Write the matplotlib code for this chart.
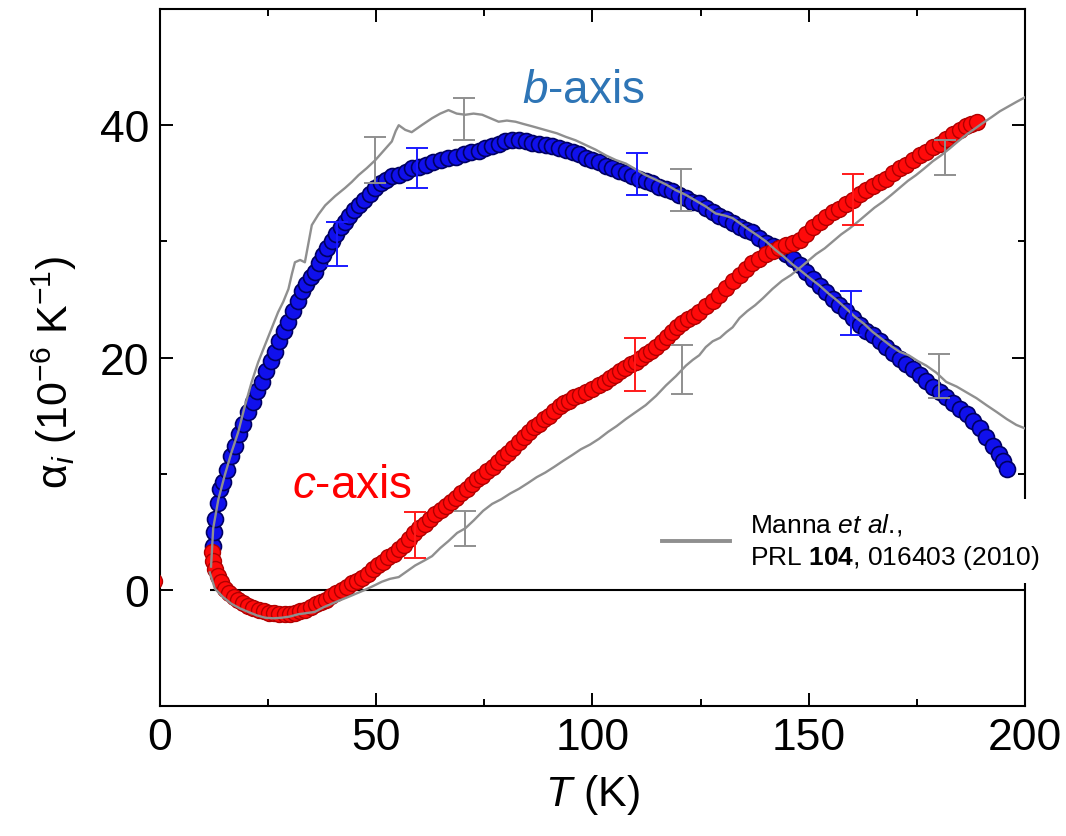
import matplotlib
matplotlib.use("Agg")
import matplotlib.pyplot as plt
from matplotlib.lines import Line2D

plt.rcParams['font.family'] = ['Liberation Sans', 'DejaVu Sans']
plt.rcParams['mathtext.fontset'] = 'custom'
plt.rcParams['mathtext.rm'] = 'Liberation Sans'
plt.rcParams['mathtext.it'] = 'Liberation Sans:italic'
plt.rcParams['mathtext.bf'] = 'Liberation Sans:bold'

# ---------------- data ----------------
b_T = [12.3, 12.5, 12.8, 13.3, 13.8, 14.5, 15.5, 16.5, 17.3, 18.3, 19.3, 20.4, 21.4, 22.5, 23.5,
       24.5, 25.6, 26.6, 27.6, 28.7, 29.7, 30.7, 31.8, 32.8, 33.8, 34.9, 35.9, 36.8, 37.8, 38.7,
       39.7, 40.7, 41.8, 42.8, 43.8, 44.9, 45.9, 47.2, 48.5, 49.8, 51.0, 52.3, 53.6, 55.2, 56.8,
       58.2, 59.8, 61.5, 63.2, 65.0, 66.7, 68.5, 70.2, 72.0, 73.7, 75.2, 76.8, 78.3, 79.8, 81.4,
       83.0, 84.6, 86.1, 87.6, 89.2, 90.7, 92.3, 93.8, 95.4, 96.9, 98.5, 100.0, 101.5, 103.1,
       104.6, 106.1, 107.7, 109.2, 110.7, 112.3, 113.8, 115.4, 116.9, 118.5, 120.0, 121.6, 123.1,
       124.7, 126.2, 127.8, 129.3, 130.9, 132.4, 134.0, 135.5, 137.0, 138.6, 140.1, 141.7, 143.2,
       144.8, 146.3, 147.9, 149.4, 151.0, 152.5, 154.0, 155.6, 157.1, 158.7, 160.2, 161.8, 163.3,
       164.8, 166.4, 167.9, 169.5, 171.0, 172.6, 174.1, 175.7, 177.2, 178.8, 180.3, 181.8, 183.4,
       184.9, 186.5, 188.0, 189.6, 191.1, 192.7, 194.0, 195.0, 195.8]
b_alpha = [3.8, 5.0, 6.1, 7.5, 8.7, 9.3, 10.3, 11.5, 12.4, 13.4, 14.3, 15.3, 16.2, 17.1, 17.9,
           18.8, 19.7, 20.5, 21.4, 22.3, 23.1, 24.0, 24.9, 25.7, 26.3, 26.9, 27.4, 28.1, 28.8, 29.4,
           30.0, 30.6, 31.2, 31.7, 32.2, 32.7, 33.1, 33.6, 34.1, 34.6, 35.0, 35.3, 35.6, 35.7, 36.0,
           36.3, 36.4, 36.6, 36.8, 37.0, 37.2, 37.3, 37.5, 37.7, 37.8, 38.0, 38.2, 38.4, 38.6, 38.7,
           38.7, 38.6, 38.5, 38.4, 38.3, 38.2, 38.0, 37.9, 37.7, 37.5, 37.2, 37.0, 36.8, 36.5,
           36.3, 36.1, 35.9, 35.6, 35.4, 35.2, 35.0, 34.7, 34.5, 34.3, 34.0, 33.7, 33.4,
           33.3, 32.9, 32.5, 32.2, 31.9, 31.6, 31.2, 31.0, 30.8, 30.3, 29.9, 29.6, 29.4,
           28.9, 28.5, 28.0, 27.4, 26.8, 26.2, 25.6, 25.0, 24.5, 24.0, 23.4, 22.8, 22.3,
           21.9, 21.4, 20.9, 20.4, 19.9, 19.4, 19.0, 18.5, 18.0, 17.5, 17.0, 16.6, 16.1,
           15.6, 15.1, 14.5, 13.9, 13.2, 12.4, 11.7, 11.1, 10.4]

c_T = [-1.3, 12.0, 12.3, 12.7, 13.3, 14.0, 15.0, 16.0, 17.0, 18.0, 19.2, 20.4, 21.6, 22.8, 24.0,
       25.2, 26.4, 27.6, 28.8, 30.0, 31.2, 32.4, 33.6, 34.8, 36.0, 37.2, 38.4, 39.6, 40.8, 42.0,
       43.2, 44.4, 45.6, 46.8, 48.0, 49.2, 50.4, 51.6, 52.8, 54.0, 55.2, 56.4, 57.6, 58.8, 60.0,
       61.2, 62.5, 63.7, 64.9, 66.1, 67.3, 68.5, 69.7, 70.9, 72.1, 73.3, 74.5, 75.7, 76.9, 78.1,
       79.3, 80.5, 81.7, 83.0, 84.2, 85.3, 86.5, 87.7, 88.9, 90.0, 91.2, 92.4, 93.5, 94.6, 95.8,
       97.0, 98.4, 100.0, 101.5, 102.8, 104.0, 105.2, 106.4, 107.6, 108.8, 110.0, 111.2, 112.4,
       113.6, 114.8, 116.0, 117.2, 118.4, 119.6, 120.8, 122.0, 123.4, 124.7, 126.2, 127.8, 129.3,
       130.8, 132.4, 134.0, 135.5, 137.0, 138.6, 140.1, 141.7, 143.2, 144.8, 146.3, 147.9, 149.4,
       151.0, 152.5, 154.0, 155.6, 157.1, 158.7, 160.2, 161.8, 163.3, 164.8, 166.4, 167.9, 169.5,
       171.0, 172.6, 174.1, 175.7, 177.2, 178.8, 180.3, 181.8, 183.4, 184.9, 186.3, 187.5, 188.8]
c_alpha = [0.8, 3.3, 2.5, 1.8, 1.2, 0.7, 0.1, -0.3, -0.6, -0.9, -1.15, -1.35, -1.55, -1.7, -1.85,
           -1.95, -2.0, -2.05, -2.1, -2.1, -2.0, -1.85, -1.7, -1.5, -1.25, -1.05, -0.85, -0.55, -0.3, -0.05,
           0.25, 0.55, 0.8, 1.05, 1.4, 1.8, 2.1, 2.4, 2.8, 3.1, 3.5, 3.9, 4.4, 4.9, 5.3,
           5.7, 6.1, 6.5, 6.85, 7.2, 7.55, 7.9, 8.3, 8.7, 9.1, 9.5, 9.8, 10.2, 10.6, 11.0,
           11.4, 11.8, 12.25, 12.7, 13.2, 13.6, 14.0, 14.3, 14.7, 15.0, 15.4, 15.8, 16.1, 16.3, 16.6,
           16.8, 17.0, 17.3, 17.6, 17.9, 18.2, 18.5, 18.8, 19.1, 19.4, 19.65, 19.95, 20.3,
           20.6, 20.9, 21.3, 21.8, 22.2, 22.6, 23.0, 23.3, 23.6, 23.9, 24.4, 24.9, 25.4,
           26.0, 26.6, 27.1, 27.6, 28.1, 28.5, 28.9, 29.2, 29.4, 29.7, 29.9, 30.1, 30.6,
           31.2, 31.7, 32.1, 32.5, 32.8, 33.2, 33.6, 34.1, 34.4, 34.8, 35.1, 35.4, 35.9,
           36.3, 36.6, 37.0, 37.4, 37.7, 38.1, 38.4, 38.8, 39.2, 39.6, 39.9, 40.1, 40.3]

# Manna et al. (grey lines)
mb_T = [11.8, 12.3, 13.5, 15.0, 16.5, 18.1, 19.6, 21.2, 22.7, 24.3, 25.8, 27.3, 28.5, 29.7, 30.5,
        31.2, 32.4, 33.5, 34.3, 35.1, 36.6, 38.2, 40.5, 42.8, 44.3, 45.9, 47.8, 49.8, 51.7, 53.6,
        54.5, 55.2, 56.7, 58.2, 60.5, 62.9, 64.8, 66.7, 68.6, 70.6, 72.5, 74.5, 76.4, 78.3, 80.2,
        82.2, 84.1, 86.1, 88.0, 89.9, 91.8, 93.8, 96.1, 98.4, 100.7, 103.1, 105.4, 107.7, 110.0,
        112.3, 114.7, 117.0, 119.3, 121.6, 123.9, 126.2, 128.5, 130.8, 132.4, 134.3, 136.2, 138.2,
        140.1, 142.2, 144.2, 146.3, 148.4, 150.4, 152.5, 154.6, 156.6, 158.7, 160.7, 162.8, 164.8,
        166.9, 169.0, 171.0, 173.1, 175.2, 177.2, 179.5, 181.8, 184.2, 186.5, 188.8, 191.1, 193.5,
        195.8, 198.0, 200.0]
mb_alpha = [2.0, 5.3, 7.8, 9.9, 11.8, 13.6, 15.8, 17.9, 19.6, 21.1, 22.5, 23.9, 24.8, 25.9, 27.2,
            28.2, 28.4, 28.2, 29.8, 31.4, 32.3, 33.1, 33.9, 34.6, 35.1, 35.7, 36.3, 37.0, 37.8, 38.6,
            39.5, 40.0, 39.6, 39.4, 40.0, 40.6, 41.0, 41.3, 41.0, 40.9, 41.0, 40.9, 40.6, 40.3, 40.4,
            40.3, 40.1, 39.9, 39.7, 39.5, 39.3, 39.0, 38.7, 38.3, 37.9, 37.4, 37.0, 36.7, 36.2,
            35.7, 35.3, 34.9, 34.4, 34.0, 33.5, 33.0, 32.4, 32.2, 32.0, 31.5, 31.0, 30.5,
            30.0, 29.3, 28.7, 28.0, 27.4, 26.8, 26.2, 25.5, 24.9, 24.2, 23.5, 22.9, 22.2,
            21.6, 21.0, 20.5, 20.2, 19.7, 19.3, 18.7, 17.9, 17.5, 17.0, 16.5, 15.9, 15.3,
            14.7, 14.2, 13.9]

mc_T = [11.5, 12.7, 14.5, 16.5, 18.5, 20.4, 22.4, 24.3, 26.2, 28.1, 30.0, 32.0, 33.9, 35.8, 37.8,
        39.7, 41.6, 43.6, 45.5, 47.4, 49.4, 51.3, 53.2, 55.2, 57.1, 59.0, 61.0, 62.9, 64.8, 66.7,
        68.7, 70.6, 72.6, 74.7, 76.8, 78.9, 81.0, 83.0, 85.1, 87.1, 89.1, 91.2, 93.2, 95.3, 97.3,
        99.4, 101.5, 103.6, 105.6, 107.7, 110.0, 112.3, 114.7, 117.0, 119.3, 121.6, 123.2, 124.7,
        126.2, 127.8, 129.5, 131.0, 132.4, 134.0, 135.8, 137.6, 139.4, 141.6, 143.8, 145.9, 147.9,
        149.8, 151.7, 153.7, 155.6, 157.5, 159.4, 161.4, 163.3, 165.2, 167.1, 169.1, 171.0, 172.9,
        174.8, 176.8, 178.7, 180.6, 182.6, 184.5, 186.5, 188.4, 190.3, 192.3, 194.2, 196.1, 198.0,
        200.0]
mc_alpha = [1.5, 0.1, -0.6, -1.2, -1.6, -1.9, -2.2, -2.4, -2.45, -2.4, -2.3, -2.1, -2.0, -1.9, -1.5,
            -1.2, -0.9, -0.6, -0.3, 0.0, 0.35, 0.7, 0.95, 1.1, 1.6, 2.1, 2.5, 2.9, 3.6, 4.2,
            4.9, 5.3, 6.0, 6.8, 7.4, 7.8, 8.3, 8.7, 9.2, 9.7, 10.1, 10.6, 11.1, 11.6, 12.1,
            12.5, 13.0, 13.6, 14.1, 14.7, 15.3, 15.9, 16.7, 17.6, 18.4, 19.3, 19.8, 20.2,
            20.9, 21.4, 21.7, 22.2, 22.6, 23.4, 24.0, 24.5, 25.1, 25.9, 26.6, 27.1, 27.7,
            28.3, 28.9, 29.4, 30.0, 30.6, 31.1, 31.7, 32.3, 32.9, 33.4, 34.0, 34.6, 35.2,
            35.7, 36.3, 36.9, 37.4, 38.0, 38.6, 39.2, 39.7, 40.2, 40.7, 41.2, 41.6, 42.0,
            42.4]

# error bars
eb_b_T = [41.0, 59.5, 110.2, 159.8]
eb_b_a = [29.8, 36.3, 35.8, 23.8]
eb_b_e = [1.9, 1.7, 1.8, 1.9]
eb_c_T = [59.0, 109.8, 160.2]
eb_c_a = [4.7, 19.4, 33.6]
eb_c_e = [2.0, 2.25, 2.2]
eb_mb_T = [49.8, 70.2, 120.4, 180.1]
eb_mb_a = [37.0, 40.5, 34.4, 18.4]
eb_mb_e = [2.0, 1.8, 1.8, 1.9]
eb_mc_T = [70.6, 120.8, 181.5]
eb_mc_a = [5.3, 19.0, 37.2]
eb_mc_e = [1.5, 2.1, 1.5]

x_ticks = [0, 50, 100, 150, 200]
y_ticks = [0, 20, 40]

# ---------------- figure ----------------
fig = plt.figure(figsize=(10.66, 8.37), dpi=100)
ax = fig.add_axes([0.1501, 0.1553, 0.8114, 0.8327])

grey = '#8f8f8f'
ax.plot(b_T, b_alpha, 'o', ms=11.5, mfc='#1010ec', mec='#000062', mew=1.2, zorder=2)
ax.plot(c_T, c_alpha, 'o', ms=11.5, mfc='#ff0a0a', mec='#b00000', mew=1.0, zorder=3)
ax.plot(mb_T, mb_alpha, '-', color=grey, lw=1.7, zorder=4)
ax.plot(mc_T, mc_alpha, '-', color=grey, lw=1.7, zorder=4)

ekw = dict(fmt='none', capsize=8, elinewidth=1.4, capthick=1.4, zorder=6)
ax.errorbar(eb_b_T, eb_b_a, yerr=eb_b_e, ecolor='#1a1aff', **ekw)
ax.errorbar(eb_c_T, eb_c_a, yerr=eb_c_e, ecolor='#ff1a1a', **ekw)
ax.errorbar(eb_mb_T, eb_mb_a, yerr=eb_mb_e, ecolor=grey, **ekw)
ax.errorbar(eb_mc_T, eb_mc_a, yerr=eb_mc_e, ecolor=grey, **ekw)

ax.hlines(0, 11.5, 200, color='black', lw=1.5, zorder=1)

ax.set_xlim(0, 200)
ax.set_ylim(-10, 50)
ax.set_xticks(x_ticks)
ax.set_yticks(y_ticks)
ax.set_xticks([25, 75, 125, 175], minor=True)
ax.set_yticks([-10, 10, 30, 50], minor=True)
ax.tick_params(which='both', direction='in', top=True, right=True, width=1.4,
               labelsize=32, pad=8)
ax.tick_params(which='major', length=9.5)
ax.tick_params(which='minor', length=5)
for s in ax.spines.values():
    s.set_linewidth(1.5)

ax.set_xlabel(r'$\mathit{T}$ (K)', fontsize=31, labelpad=10)
ax.set_ylabel('α$_i$ (10$^{-6}$ K$^{-1}$)', fontsize=31)
ax.yaxis.set_label_coords(-0.094, 0.48)

ax.text(98, 43.0, r'$\mathit{b}$-axis', color='#2e75b6', fontsize=33,
        ha='center', va='center')
ax.text(44.5, 9.0, r'$\mathit{c}$-axis', color='#ff0000', fontsize=33,
        ha='center', va='center')

handle = Line2D([], [], color=grey, lw=2.8)
leg = ax.legend([handle], ['Manna $\\mathit{et\\ al}$.,\nPRL $\\mathbf{104}$, 016403 (2010)'],
                loc='upper left', bbox_to_anchor=(650 / 1066, 1 - 500 / 837),
                bbox_transform=fig.transFigure, borderaxespad=0, frameon=True,
                fancybox=False, framealpha=1, facecolor='white', edgecolor='none',
                fontsize=19, handlelength=2.6, handletextpad=0.75, borderpad=0.45)
for t in leg.get_texts():
    t.set_linespacing(1.3)
leg.set_zorder(10)

fig.savefig('out.png', dpi=100)
